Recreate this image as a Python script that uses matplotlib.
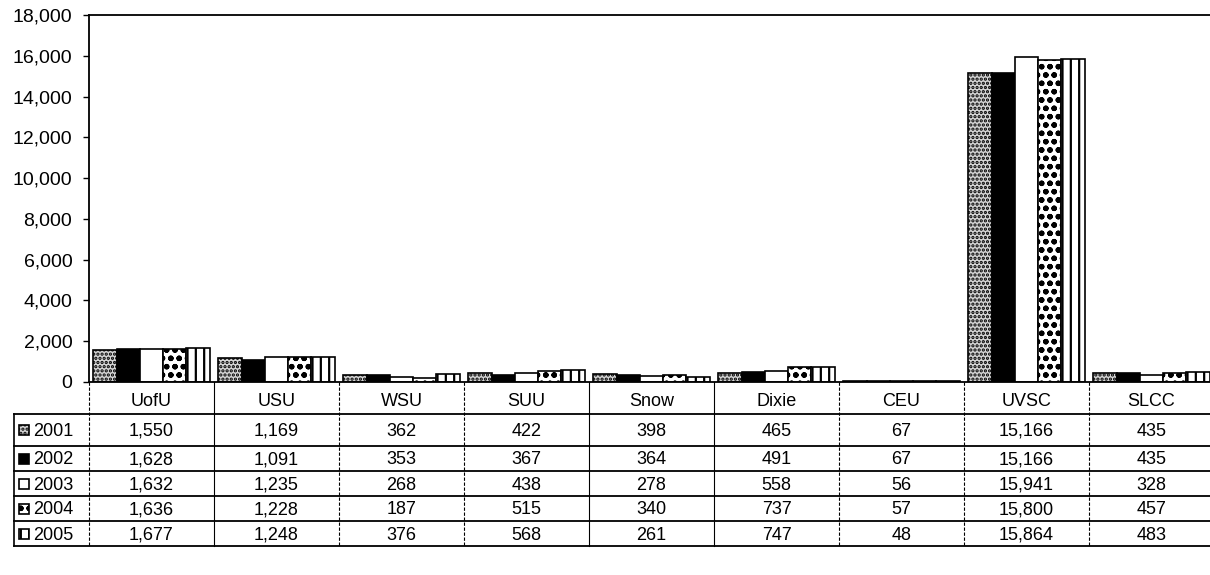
import matplotlib
matplotlib.use("Agg")
import matplotlib.pyplot as plt
from matplotlib.patches import Rectangle
from matplotlib.lines import Line2D
from matplotlib.ticker import FuncFormatter

categories = ["UofU", "USU", "WSU", "SUU", "Snow", "Dixie", "CEU", "UVSC", "SLCC"]
years = ["2001", "2002", "2003", "2004", "2005"]
v2001 = [1550, 1169, 362, 422, 398, 465, 67, 15166, 435]
v2002 = [1628, 1091, 353, 367, 364, 491, 67, 15166, 435]
v2003 = [1632, 1235, 268, 438, 278, 558, 56, 15941, 328]
v2004 = [1636, 1228, 187, 515, 340, 737, 57, 15800, 457]
v2005 = [1677, 1248, 376, 568, 261, 747, 48, 15864, 483]
series = [v2001, v2002, v2003, v2004, v2005]

styles = [
    dict(facecolor="#d4d4d4", hatch="...."),
    dict(facecolor="black", hatch=None),
    dict(facecolor="white", hatch=None),
    dict(facecolor="white", hatch="oo"),
    dict(facecolor="white", hatch="||"),
]

plt.rcParams["font.family"] = ["Liberation Sans", "DejaVu Sans"]
plt.rcParams["hatch.linewidth"] = 1.6

W, H = 1210, 575
fig = plt.figure(figsize=(W / 100, H / 100), dpi=100)

x_left, x_right = 89, 1214
y_top, y_zero = 15, 382
ax = fig.add_axes([x_left / W, 1 - y_zero / H, (x_right - x_left) / W, (y_zero - y_top) / H])

n = len(categories)
gw = 0.93
bw = gw / len(series)
for j, (vals, st) in enumerate(zip(series, styles)):
    xs = [i - gw / 2 + bw * (j + 0.5) for i in range(n)]
    ax.bar(xs, vals, width=bw, facecolor=st["facecolor"], hatch=st["hatch"],
           edgecolor="black", linewidth=1.2)

ax.set_xlim(-0.5, n - 0.5)
ax.set_ylim(0, 18000)
ax.set_yticks(range(0, 18001, 2000))
ax.yaxis.set_major_formatter(FuncFormatter(lambda v, p: f"{int(v):,}"))
ax.tick_params(axis="y", direction="out", length=4, width=1, pad=8, labelsize=14)
ax.set_xticks([])
ax.spines["right"].set_visible(False)
for s in ["left", "top", "bottom"]:
    ax.spines[s].set_linewidth(1.3)

# Data table below the plot
def fx(px):
    return px / W

def fy(py):
    return 1 - py / H

table_left = 14
row_lines = [414, 446, 471, 496, 521, 546]
header_base = 406

bounds = [x_left + (x_right - x_left) * k / n for k in range(n + 1)]

for ry in row_lines:
    fig.add_artist(Line2D([fx(table_left), fx(x_right)], [fy(ry), fy(ry)],
                          color="black", linewidth=1.3))
fig.add_artist(Line2D([fx(table_left), fx(table_left)], [fy(row_lines[0]), fy(row_lines[-1])],
                      color="black", linewidth=1.2))
for k, bx in enumerate(bounds):
    ls = "-" if k in (1, 4, 5) else (0, (3, 1.5))
    fig.add_artist(Line2D([fx(bx), fx(bx)], [fy(y_zero), fy(row_lines[-1])],
                          color="black", linewidth=0.8, linestyle=ls))

for i, c in enumerate(categories):
    cx = (bounds[i] + bounds[i + 1]) / 2
    fig.text(fx(cx), fy(header_base), c, ha="center", va="baseline", fontsize=13)

for r, (yr, vals, st) in enumerate(zip(years, series, styles)):
    cy = (row_lines[r] + row_lines[r + 1]) / 2
    base = cy + 6
    key = Rectangle((fx(19), fy(cy + 5)), 10 / W, 10 / H, transform=fig.transFigure,
                    facecolor=st["facecolor"], hatch=st["hatch"], edgecolor="black",
                    linewidth=1.2)
    fig.add_artist(key)
    fig.text(fx(33), fy(base), yr, ha="left", va="baseline", fontsize=13)
    for i, v in enumerate(vals):
        cx = (bounds[i] + bounds[i + 1]) / 2
        fig.text(fx(cx), fy(base), f"{v:,}", ha="center", va="baseline", fontsize=13)

fig.savefig("out.png", dpi=100)
